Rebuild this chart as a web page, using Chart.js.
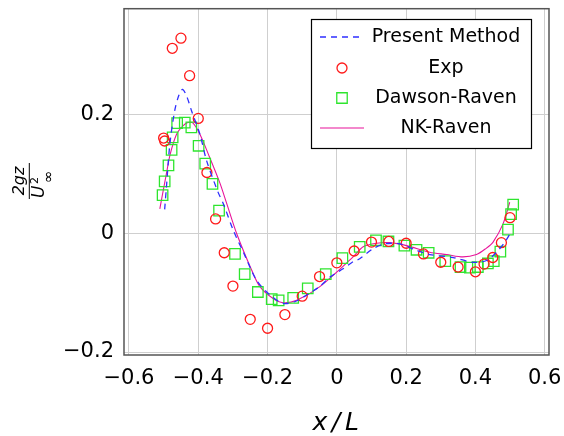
<!DOCTYPE html>
<html>
<head>
<meta charset="utf-8">
<script src="https://cdn.jsdelivr.net/npm/chart.js@4.4.0/dist/chart.umd.min.js"></script>
<style>
  html, body { margin: 0; padding: 0; background: #fff; }
  #wrap { width: 564px; height: 436px; }
</style>
</head>
<body>
<div id="wrap"><canvas id="grafico" width="564" height="436"></canvas></div>
<script>
// tick labels
const xTicks = [-0.6, -0.4, -0.2, 0, 0.2, 0.4, 0.6];
const yTicks = [-0.2, 0, 0.2];

// Present Method (dashed blue)
const presentX = [-0.497, -0.492, -0.482, -0.468, -0.456, -0.445, -0.432, -0.419, -0.395, -0.376, -0.343, -0.328, -0.299, -0.266, -0.232, -0.193, -0.155, -0.12, -0.087, -0.05, -0.02, 0.018, 0.047, 0.066, 0.105, 0.139, 0.182, 0.23, 0.268, 0.336, 0.393, 0.432, 0.461, 0.485, 0.5];
const presentY = [0.04, 0.077, 0.15, 0.206, 0.232, 0.242, 0.228, 0.205, 0.166, 0.122, 0.069, 0.05, 0.005, -0.037, -0.079, -0.104, -0.118, -0.115, -0.104, -0.09, -0.074, -0.06, -0.048, -0.043, -0.026, -0.018, -0.018, -0.029, -0.036, -0.041, -0.049, -0.046, -0.032, -0.015, -0.001];

// Exp (red circles)
const expX = [-0.5, -0.497, -0.475, -0.45, -0.425, -0.4, -0.375, -0.35, -0.325, -0.3, -0.25, -0.2, -0.15, -0.1, -0.05, 0, 0.05, 0.1, 0.15, 0.2, 0.25, 0.3, 0.35, 0.4, 0.425, 0.45, 0.475, 0.5];
const expY = [0.16, 0.155, 0.311, 0.328, 0.265, 0.193, 0.102, 0.024, -0.033, -0.089, -0.145, -0.16, -0.137, -0.106, -0.073, -0.05, -0.03, -0.015, -0.014, -0.017, -0.035, -0.049, -0.057, -0.065, -0.052, -0.041, -0.016, 0.026];

// Dawson-Raven (green squares)
const dawsonX = [-0.503, -0.497, -0.486, -0.477, -0.474, -0.461, -0.439, -0.42, -0.399, -0.38, -0.359, -0.34, -0.294, -0.266, -0.228, -0.188, -0.168, -0.126, -0.084, -0.032, 0.016, 0.066, 0.113, 0.149, 0.195, 0.23, 0.265, 0.313, 0.357, 0.384, 0.407, 0.436, 0.453, 0.472, 0.494, 0.503, 0.509];
const dawsonY = [0.064, 0.087, 0.114, 0.14, 0.161, 0.185, 0.186, 0.178, 0.147, 0.117, 0.083, 0.038, -0.035, -0.069, -0.099, -0.111, -0.113, -0.109, -0.093, -0.069, -0.042, -0.023, -0.012, -0.014, -0.021, -0.028, -0.033, -0.047, -0.057, -0.058, -0.057, -0.051, -0.047, -0.031, 0.006, 0.032, 0.048];

// NK-Raven (solid magenta)
const nkX = [-0.511, -0.503, -0.492, -0.481, -0.463, -0.445, -0.43, -0.415, -0.395, -0.371, -0.338, -0.318, -0.289, -0.246, -0.222, -0.184, -0.155, -0.116, -0.049, 0.047, 0.076, 0.115, 0.153, 0.201, 0.268, 0.317, 0.364, 0.403, 0.43, 0.451, 0.48, 0.499];
const nkY = [0.041, 0.066, 0.1, 0.133, 0.166, 0.18, 0.186, 0.185, 0.166, 0.133, 0.085, 0.05, -0.001, -0.062, -0.09, -0.11, -0.117, -0.113, -0.09, -0.04, -0.023, -0.017, -0.016, -0.021, -0.032, -0.036, -0.04, -0.036, -0.026, -0.015, 0.016, 0.052];

function pts(xs, ys) { return xs.map((x, i) => ({ x: x, y: ys[i] })); }
function fmt(v) {
  if (Math.abs(v) < 1e-9) return '0';
  return (v < 0 ? '\u2212' : '') + Math.abs(v).toFixed(1);
}

const FONT = '"DejaVu Sans", sans-serif';

// box, legend and axis titles
const decor = {
  id: 'decor',
  afterDraw(chart) {
    const ctx = chart.ctx, a = chart.chartArea;
    ctx.save();
    ctx.strokeStyle = '#555';
    ctx.lineWidth = 1.5;
    ctx.strokeRect(a.left, a.top, a.right - a.left, a.bottom - a.top);

    // legend
    const lx = 311.5, ly = 19.5, lw = 220, lh = 129;
    ctx.fillStyle = '#fff';
    ctx.fillRect(lx, ly, lw, lh);
    ctx.strokeStyle = '#000';
    ctx.lineWidth = 1.2;
    ctx.strokeRect(lx, ly, lw, lh);
    ctx.font = '19px ' + FONT;
    ctx.textAlign = 'center';
    ctx.textBaseline = 'middle';
    const rows = [37, 68, 98, 128];
    chart.data.datasets.forEach((ds, i) => {
      const y = rows[i];
      ctx.fillStyle = '#000';
      ctx.fillText(ds.label, 446, y);
      ctx.strokeStyle = ds.borderColor;
      ctx.lineWidth = ds.borderWidth || 1;
      if (ds.showLine) {
        ctx.setLineDash(ds.borderDash || []);
        ctx.beginPath();
        ctx.moveTo(320, y);
        ctx.lineTo(364, y);
        ctx.stroke();
        ctx.setLineDash([]);
      } else {
        ctx.fillStyle = 'rgba(0,0,0,0)';
        Chart.helpers.drawPoint(ctx, { pointStyle: ds.pointStyle, radius: ds.pointRadius, borderWidth: ds.borderWidth }, 342, y);
      }
    });

    // x title
    ctx.fillStyle = '#000';
    ctx.font = 'italic 25px ' + FONT;
    ctx.textAlign = 'center';
    ctx.textBaseline = 'alphabetic';
    ctx.fillText('x', 320, 430);
    ctx.fillText('/', 336, 430);
    ctx.fillText('L', 352, 430);

    // y title (fraction, rotated)
    ctx.translate(29.3, 181);
    ctx.rotate(-Math.PI / 2);
    ctx.font = 'italic 16px ' + FONT;
    ctx.textAlign = 'center';
    ctx.fillText('2gz', 0, -5);
    ctx.lineWidth = 1;
    ctx.strokeStyle = '#000';
    ctx.beginPath();
    ctx.moveTo(-18, 0);
    ctx.lineTo(18, 0);
    ctx.stroke();
    ctx.textAlign = 'left';
    ctx.font = 'italic 17px ' + FONT;
    ctx.fillText('U', -17, 15);
    ctx.font = '11px ' + FONT;
    ctx.fillText('2', -3, 9);
    ctx.font = '15px ' + FONT;
    ctx.fillText('\u221E', -2, 24);
    ctx.restore();
  }
};

document.addEventListener("DOMContentLoaded", function() {
  const data = {
    datasets: [{
      label: 'Present Method',
      data: pts(presentX, presentY),
      showLine: true,
      borderColor: '#2f2fff',
      borderWidth: 1.3,
      borderDash: [6, 5],
      pointRadius: 0,
      tension: 0.3
    }, {
      label: 'Exp',
      data: pts(expX, expY),
      showLine: false,
      borderColor: '#ff1a1a',
      backgroundColor: 'rgba(0,0,0,0)',
      borderWidth: 1.3,
      pointStyle: 'circle',
      pointRadius: 5
    }, {
      label: 'Dawson-Raven',
      data: pts(dawsonX, dawsonY),
      showLine: false,
      borderColor: '#2ee52e',
      backgroundColor: 'rgba(0,0,0,0)',
      borderWidth: 1.3,
      pointStyle: 'rect',
      pointRadius: 7.4
    }, {
      label: 'NK-Raven',
      data: pts(nkX, nkY),
      showLine: true,
      borderColor: '#e8139a',
      borderWidth: 1.1,
      pointRadius: 0,
      tension: 0.3
    }]
  };

  var ctx = document.getElementById("grafico").getContext('2d');
  var myChart = new Chart(ctx, {
    type: 'scatter',
    data: data,
    options: {
      responsive: false,
      animation: false,
      layout: { padding: { left: 0, right: 15, top: 7, bottom: 0 } },
      plugins: { legend: { display: false }, tooltip: { enabled: false } },
      scales: {
        x: {
          type: 'linear',
          min: -0.6144,
          max: 0.6124,
          afterBuildTicks: s => { s.ticks = xTicks.map(v => ({ value: v })); },
          afterFit: s => { s.height = 81; s.paddingLeft = 0; s.paddingRight = 0; },
          grid: { color: '#cfcfcf', drawTicks: false },
          border: { display: false },
          ticks: { color: '#000', font: { family: FONT, size: 21 }, padding: 11, maxRotation: 0, autoSkip: false, callback: v => fmt(v) }
        },
        y: {
          type: 'linear',
          min: -0.205,
          max: 0.3776,
          afterBuildTicks: s => { s.ticks = yTicks.map(v => ({ value: v })); },
          afterFit: s => { s.width = 124; s.paddingTop = 0; s.paddingBottom = 0; },
          grid: { color: '#cfcfcf', drawTicks: false },
          border: { display: false },
          ticks: { color: '#000', font: { family: FONT, size: 21 }, padding: 10, callback: v => fmt(v) }
        }
      }
    },
    plugins: [decor]
  });
});
</script>
</body>
</html>
